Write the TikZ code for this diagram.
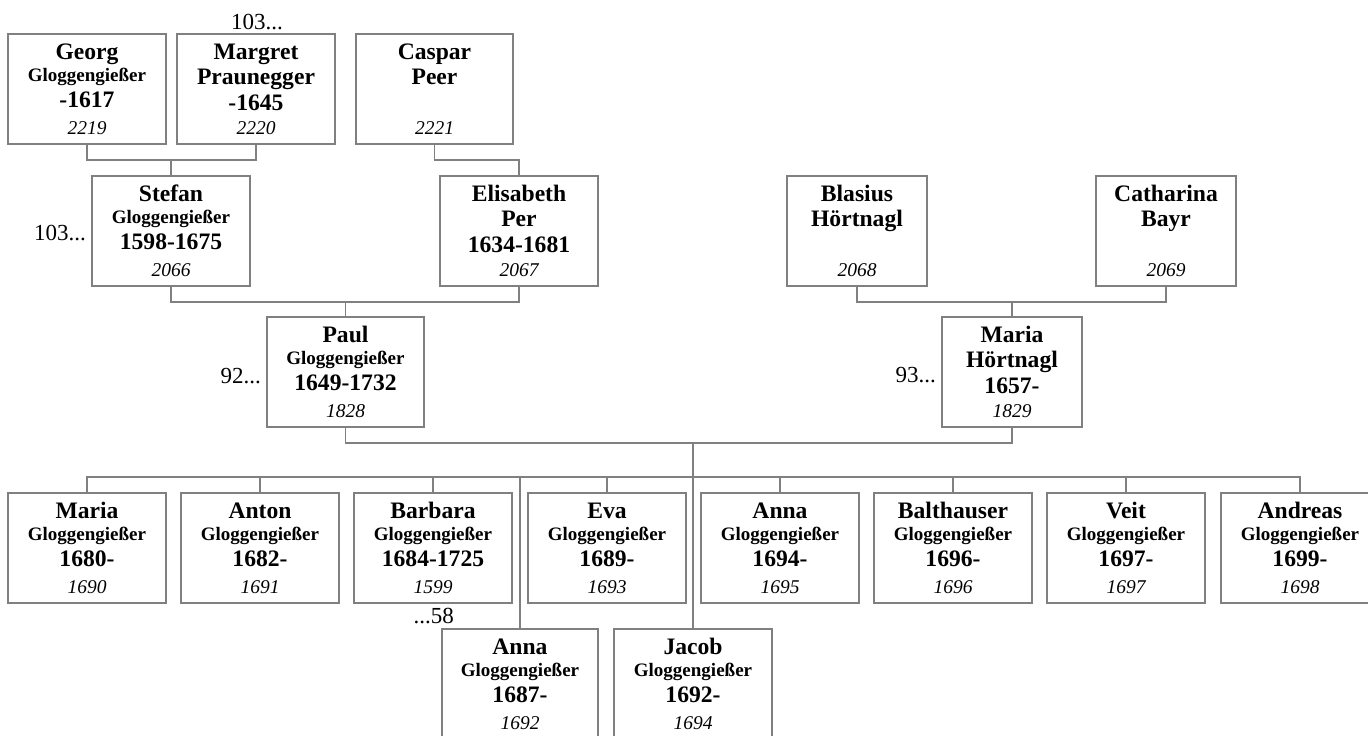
\documentclass[tikz,border=0pt]{standalone}
\usepackage{fontspec}
\setmainfont{Liberation Serif}
\definecolor{linegray}{RGB}{128,128,128}
\newcommand\bigf{\fontsize{23.6}{28}\selectfont\bfseries}
\newcommand\smf{\fontsize{19}{23}\selectfont\bfseries}
\newcommand\numf{\fontsize{19.5}{23}\selectfont\itshape}
\newcommand\lblf{\fontsize{23}{27}\selectfont}
\tikzset{
  pbox/.style={draw=linegray, line width=1.2pt, rectangle, inner sep=0pt, outer sep=0pt,
    minimum height=110, anchor=north west},
  txt/.style={inner sep=0pt, outer sep=0pt, anchor=base},
  conn/.style={draw=linegray, line width=1.2pt},
  lbl/.style={inner sep=0pt, anchor=base east, font=\lblf}
}
% #1 name, #2 x, #3 y, #4 width, #5 first name, #6 line2 offset, #7 line2 text, #8 dates, #9 number
\newcommand\pers[9]{%
  \node[pbox, minimum width=#4] (#1) at (#2,#3) {};
  \node[txt, font=\bigf] (#1-n) at ([yshift=-25pt]#1.north) {#5};
  \node[txt] (#1-s) at ([yshift=-#6pt]#1.north) {#7};
  \if\relax\detokenize{#8}\relax\else
    \pgfmathsetmacro\dateoff{#6+26}%
    \node[txt, font=\bigf] (#1-d) at ([yshift=-\dateoff pt]#1.north) {#8};
  \fi
  \node[txt, font=\numf] (#1-k) at ([yshift=-100pt]#1.north) {#9};
}
\newcommand\gl{\smf Gloggengießer}
\begin{document}
\begin{tikzpicture}[x=1pt,y=-1pt]
\useasboundingbox (0,0) rectangle (1368,736);
% generation 1
\pers{georg}{8}{34}{158}{Georg}{47}{\gl}{-1617}{2219}
\pers{margret}{177}{34}{158}{Margret}{50}{\bigf Praunegger}{-1645}{2220}
\pers{caspar}{356}{34}{157}{Caspar}{50}{\bigf Peer}{}{2221}
% generation 2
\pers{stefan}{92}{176}{158}{Stefan}{47}{\gl}{1598-1675}{2066}
\pers{elisabeth}{440}{176}{158}{Elisabeth}{50}{\bigf Per}{1634-1681}{2067}
\pers{blasius}{787}{176}{140}{Blasius}{50}{\bigf Hörtnagl}{}{2068}
\pers{catharina}{1096}{176}{140}{Catharina}{50}{\bigf Bayr}{}{2069}
% generation 3
\pers{paul}{267}{317}{157}{Paul}{47}{\gl}{1649-1732}{1828}
\pers{mariah}{942}{317}{140}{Maria}{50}{\bigf Hörtnagl}{1657-}{1829}
% children
\pers{c1}{8}{493}{158}{Maria}{47}{\gl}{1680-}{1690}
\pers{c2}{181}{493}{158}{Anton}{47}{\gl}{1682-}{1691}
\pers{c3}{354}{493}{158}{Barbara}{47}{\gl}{1684-1725}{1599}
\pers{c4}{528}{493}{158}{Eva}{47}{\gl}{1689-}{1693}
\pers{c5}{701}{493}{158}{Anna}{47}{\gl}{1694-}{1695}
\pers{c6}{874}{493}{158}{Balthauser}{47}{\gl}{1696-}{1696}
\pers{c7}{1047}{493}{158}{Veit}{47}{\gl}{1697-}{1697}
\pers{c8}{1221}{493}{158}{Andreas}{47}{\gl}{1699-}{1698}
\pers{anna2}{442}{629}{156}{Anna}{47}{\gl}{1687-}{1692}
\pers{jacob}{614}{629}{158}{Jacob}{47}{\gl}{1692-}{1694}
% labels
\node[lbl] (l1) at (283,29) {103...};
\node[lbl] (l2) at (86,240) {103...};
\node[lbl] (l3) at (261,383) {92...};
\node[lbl] (l4) at (936,382) {93...};
\node[lbl] (l5) at (454,623) {...58};
% connectors
\draw[conn] (georg.south) -- ++(0,16) -| (margret.south);
\draw[conn] (stefan.north) -- ++(0,-16);
\draw[conn] (caspar.south) -- ++(0,16) -| (elisabeth.north);
\draw[conn] (stefan.south) -- ++(0,16) -| (elisabeth.south);
\draw[conn] (paul.north) -- ++(0,-16);
\draw[conn] (blasius.south) -- ++(0,16) -| (catharina.south);
\draw[conn] (mariah.north) -- ++(0,-16);
\draw[conn] (paul.south) -- ++(0,16) -| (mariah.south);
\draw[conn] (jacob.north) -- ++(0,-186);
\draw[conn] (c1.north) -- ++(0,-16) -| (c8.north);
\foreach \c in {c2,c3,c4,c5,c6,c7} \draw[conn] (\c.north) -- ++(0,-16);
\draw[conn] (anna2.north) -- ++(0,-152);
\end{tikzpicture}
\end{document}
